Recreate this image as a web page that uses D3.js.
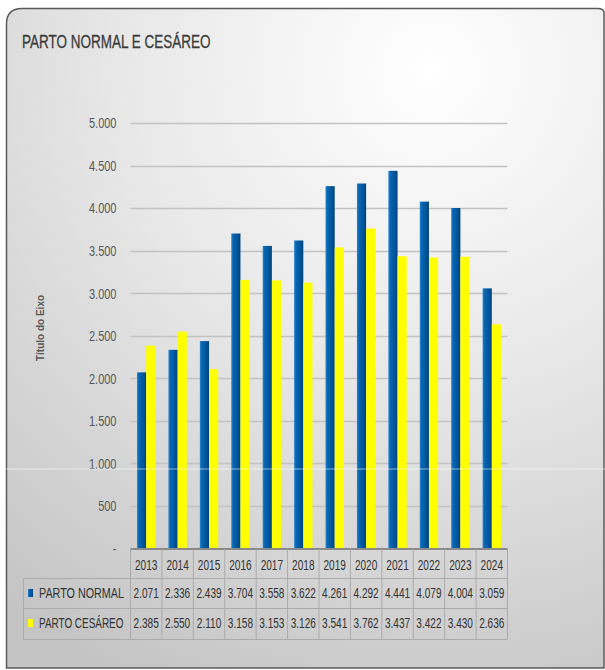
<!DOCTYPE html>
<html>
<head>
<meta charset="utf-8">
<script src="https://cdn.jsdelivr.net/npm/d3@7"></script>
<style>
  body { margin: 0; background: #fff; }
  svg text { font-family: "Liberation Sans Narrow", "Arial Narrow", "Liberation Sans", sans-serif; }
</style>
</head>
<body>
<div id="plot"></div>
<script>
  var years = ["2013","2014","2015","2016","2017","2018","2019","2020","2021","2022","2023","2024"];
  var partoNormal = [2071, 2336, 2439, 3704, 3558, 3622, 4261, 4292, 4441, 4079, 4004, 3059];
  var partoCesareo = [2385, 2550, 2110, 3158, 3153, 3126, 3541, 3762, 3437, 3422, 3430, 2636];
  var seriesNames = ["PARTO NORMAL", "PARTO CESÁREO"];
  var seriesColors = ["url(#blueBar)", "#ffff00"];
  var yTicks = [0, 500, 1000, 1500, 2000, 2500, 3000, 3500, 4000, 4500, 5000];

  var W = 605, H = 670;
  var plotLeft = 130.5, plotRight = 507.5, plotTop = 123.3, base = 548.5;

  var pt = d3.formatLocale({decimal: ",", thousands: ".", grouping: [3], currency: ["R$", ""]});
  var fmt = function(v) { return v === 0 ? "-" : pt.format(",")(v); };

  // imita fonte condensada (Calibri): escala horizontal no próprio texto
  function condensed(parent, px, py, k) {
    return parent.append("text")
      .attr("transform", "translate(" + px + "," + py + ") scale(" + k + ",1)");
  }

  var svg = d3.select("#plot").append("svg")
      .attr("width", W).attr("height", H);

  var defs = svg.append("defs");
  var bg = defs.append("radialGradient").attr("id", "bg")
      .attr("gradientUnits", "userSpaceOnUse")
      .attr("cx", 430).attr("cy", 70).attr("r", 680);
  bg.append("stop").attr("offset", "0").attr("stop-color", "#ffffff");
  bg.append("stop").attr("offset", "0.45").attr("stop-color", "#e8e8e8");
  bg.append("stop").attr("offset", "1").attr("stop-color", "#c4c4c4");

  var bl = defs.append("linearGradient").attr("id", "blueBar")
      .attr("x1", 0).attr("x2", 1).attr("y1", 0).attr("y2", 0);
  bl.append("stop").attr("offset", "0").attr("stop-color", "#2a88d2");
  bl.append("stop").attr("offset", "0.2").attr("stop-color", "#0866b3");
  bl.append("stop").attr("offset", "0.6").attr("stop-color", "#00589f");
  bl.append("stop").attr("offset", "1").attr("stop-color", "#00427a");

  // caixa do gráfico
  svg.append("path")
    .attr("d", "M6.5,668 L6.5,24 Q6.5,8.5 22,8.5 L598,8.5 Q603,8.5 604,12 L604,668 Z")
    .attr("fill", "url(#bg)")
    .attr("stroke", "#5a5a5a")
    .attr("stroke-width", 1.5);

  condensed(svg, 22, 48, 0.73)
    .attr("font-size", 18.5).attr("fill", "#3a3a3a")
    .attr("stroke", "#3a3a3a").attr("stroke-width", 0.3)
    .text("PARTO NORMAL E CESÁREO");

  var x = d3.scaleBand().domain(years).range([plotLeft, plotRight]).paddingInner(0).paddingOuter(0);
  var x1 = d3.scaleBand().domain(seriesNames).range([0, x.bandwidth()]).paddingInner(0).paddingOuter(0.71);
  var y = d3.scaleLinear().domain([0, 5000]).range([base, plotTop]);

  // grade
  svg.append("g").selectAll("line")
    .data(yTicks.filter(function(d) { return d > 0; }))
    .enter().append("line")
      .attr("x1", plotLeft).attr("x2", plotRight)
      .attr("y1", function(d) { return Math.round(y(d)) + 0.5; })
      .attr("y2", function(d) { return Math.round(y(d)) + 0.5; })
      .attr("stroke", "#c2c2c2").attr("stroke-width", 1.3);

  var kY = 0.76;
  var yAxis = d3.axisLeft(y).tickValues(yTicks).tickFormat(fmt).tickSize(0).tickPadding(14);
  var ya = svg.append("g").attr("transform", "translate(" + plotLeft + ",0)").call(yAxis);
  ya.select(".domain").remove();
  ya.selectAll("text").attr("font-size", 14.5).attr("fill", "#595959")
    .attr("font-family", null)
    .attr("x", -14 / kY)
    .attr("transform", "scale(" + kY + ",1)");

  svg.append("text")
    .attr("transform", "translate(44,328) rotate(-90)")
    .attr("text-anchor", "middle")
    .attr("font-size", 10).attr("font-weight", "bold").attr("fill", "#595959")
    .text("Título do Eixo");

  // barras
  var series = [partoNormal, partoCesareo];
  series.forEach(function(vals, si) {
    svg.append("g").selectAll("rect")
      .data(vals)
      .enter().append("rect")
        .attr("x", function(d, i) { return x(years[i]) + x1(seriesNames[si]); })
        .attr("width", x1.bandwidth())
        .attr("y", function(d) { return y(d); })
        .attr("height", function(d) { return base - y(d); })
        .attr("fill", seriesColors[si]);
  });

  // faixa clara (artefato da imagem)
  svg.append("line")
    .attr("x1", 0).attr("x2", W).attr("y1", 469).attr("y2", 469)
    .attr("stroke", "#ffffff").attr("stroke-opacity", 0.55).attr("stroke-width", 1);

  // tabela de dados
  var rowY = [549, 578, 608, 639];
  var tbl = svg.append("g");
  var lineColor = "#ababab";
  tbl.append("line").attr("x1", plotLeft).attr("x2", plotRight).attr("y1", rowY[0]).attr("y2", rowY[0])
    .attr("stroke", "#8a8a8a").attr("stroke-width", 2);
  [1, 2, 3].forEach(function(r) {
    tbl.append("line").attr("x1", 23).attr("x2", plotRight).attr("y1", rowY[r] + 0.5).attr("y2", rowY[r] + 0.5)
      .attr("stroke", lineColor);
  });
  tbl.append("line").attr("x1", 23.5).attr("x2", 23.5).attr("y1", rowY[1]).attr("y2", rowY[3])
    .attr("stroke", lineColor);
  tbl.selectAll(".vl").data(years.concat(["end"])).enter().append("line")
    .attr("class", "vl")
    .attr("x1", function(d) { return d === "end" ? plotRight : x(d); })
    .attr("x2", function(d) { return d === "end" ? plotRight : x(d); })
    .attr("y1", rowY[0]).attr("y2", rowY[3])
    .attr("stroke", lineColor);

  var kT = 0.72;
  years.forEach(function(yr) {
    condensed(tbl, x(yr) + x.bandwidth() / 2, 569.5, kT)
      .attr("text-anchor", "middle")
      .attr("font-size", 14).attr("fill", "#333333")
      .text(yr);
  });

  var rowTextY = [598, 628];
  series.forEach(function(vals, si) {
    tbl.append("rect")
      .attr("x", 28).attr("y", rowTextY[si] - 9).attr("width", 5).attr("height", 8)
      .attr("fill", seriesColors[si]);
    condensed(tbl, 39, rowTextY[si], si === 0 ? 0.77 : 0.71)
      .attr("font-size", 14).attr("fill", "#333333")
      .text(seriesNames[si]);
    vals.forEach(function(v, i) {
      condensed(tbl, x(years[i]) + x.bandwidth() / 2, rowTextY[si], kT)
        .attr("text-anchor", "middle")
        .attr("font-size", 14).attr("fill", "#333333")
        .text(fmt(v));
    });
  });
</script>
</body>
</html>
